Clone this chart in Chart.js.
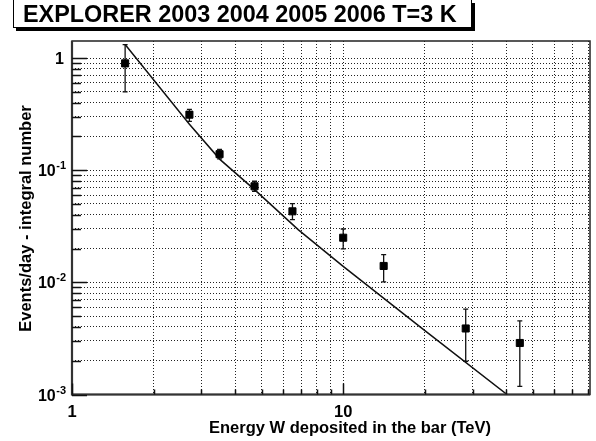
<!DOCTYPE html>
<html>
<head>
<meta charset="utf-8">
<script src="https://cdn.jsdelivr.net/npm/chart.js@4"></script>
<style>
  body { margin: 0; background: #fff; }
  #wrap { width: 596px; height: 441px; }
</style>
</head>
<body>
<div id="wrap"><canvas id="c" width="596" height="441"></canvas></div>
<script>
// measured points (energy in TeV, events/day)
const energy = [1.57, 2.71, 3.5, 4.71, 6.5, 10.0, 14.1, 28.3, 44.8];
const rate = [0.897, 0.313, 0.139, 0.0719, 0.043, 0.025, 0.0140, 0.00388, 0.00288];
const rateHigh = [1.32, 0.349, 0.153, 0.0797, 0.0503, 0.0299, 0.0177, 0.00578, 0.00454];
const rateLow = [0.50, 0.273, 0.126, 0.0649, 0.0362, 0.0199, 0.0101, 0.00198, 0.00118];

// expected curve
const curveEnergy = [1.57, 2.71, 3.51, 4.71, 6.84, 10, 19.9, 40.2];
const curveRate = [1.32, 0.257, 0.125, 0.0672, 0.0294, 0.0139, 0.00375, 0.001];

// axes
const xRange = [1, 81.3];
const yRange = [0.001, 1.42];
const xDecades = [1, 10];
const xDecadeLabels = ['1', '10'];
const yDecades = [0.001, 0.01, 0.1, 1];
const yDecadeBase = ['10', '10', '10', '1'];
const yDecadeExp = ['-3', '-2', '-1', ''];

const titleText = 'EXPLORER 2003 2004 2005 2006 T=3 K';
const xTitle = 'Energy W deposited in the bar (TeV)';
const yTitle = 'Events/day - integral number';

const FONT = '"Liberation Sans", Arial, Helvetica, sans-serif';

function gridValues(decades, lo, hi) {
  const out = [];
  const all = decades.concat([decades[decades.length - 1] * 10]);
  all.forEach((d) => {
    for (let k = 1; k <= 9; k++) {
      const v = d * k;
      if (v >= lo * 0.9999 && v <= hi) out.push(v);
    }
  });
  return out;
}
const xGrid = gridValues(xDecades, xRange[0], xRange[1]);
const yGrid = gridValues(yDecades, yRange[0], yRange[1]);
const isDecade = (v) => Math.abs(Math.log10(v) - Math.round(Math.log10(v))) < 1e-6;

const decor = {
  id: 'decor',
  beforeDatasetsDraw(chart) {
    const { ctx, scales: { x, y } } = chart;
    ctx.save();
    ctx.strokeStyle = '#111';
    ctx.lineWidth = 1.3;
    energy.forEach((e, i) => {
      const px = x.getPixelForValue(e);
      const top = y.getPixelForValue(rateHigh[i]);
      const bot = y.getPixelForValue(rateLow[i]);
      ctx.beginPath();
      ctx.moveTo(px, top); ctx.lineTo(px, bot);
      ctx.moveTo(px - 2.5, top); ctx.lineTo(px + 2.5, top);
      ctx.moveTo(px - 2.5, bot); ctx.lineTo(px + 2.5, bot);
      ctx.stroke();
    });
    ctx.restore();
  },
  afterDraw(chart) {
    const { ctx, chartArea: a, scales: { x, y } } = chart;
    ctx.save();

    // frame
    ctx.strokeStyle = '#222';
    ctx.lineWidth = 1.5;
    ctx.strokeRect(a.left, a.top, a.right - a.left, a.bottom - a.top);
    ctx.lineWidth = 2.2;
    ctx.strokeStyle = '#333';
    ctx.beginPath();
    ctx.moveTo(a.left, a.top); ctx.lineTo(a.left, a.bottom); ctx.lineTo(a.right, a.bottom);
    ctx.stroke();

    // tick marks
    ctx.lineWidth = 1.5;
    ctx.strokeStyle = '#111';
    ctx.beginPath();
    yGrid.forEach((v) => {
      const py = Math.round(y.getPixelForValue(v)) + 0.5;
      ctx.moveTo(a.left, py); ctx.lineTo(a.left + (isDecade(v) ? 15 : 9), py);
    });
    xGrid.forEach((v) => {
      const px = Math.round(x.getPixelForValue(v)) + 0.5;
      ctx.moveTo(px, a.bottom); ctx.lineTo(px, a.bottom - (isDecade(v) ? 11 : 5));
    });
    ctx.stroke();

    // tick labels
    ctx.fillStyle = '#000';
    ctx.textBaseline = 'alphabetic';
    yDecades.forEach((v, i) => {
      const py = y.getPixelForValue(v);
      const right = a.left - 6;
      ctx.font = 'bold 11px ' + FONT;
      const expW = yDecadeExp[i] ? ctx.measureText(yDecadeExp[i]).width : 0;
      if (yDecadeExp[i]) {
        ctx.textAlign = 'right';
        ctx.fillText(yDecadeExp[i], right, py - 1);
      }
      ctx.font = 'bold 16px ' + FONT;
      ctx.textAlign = 'right';
      ctx.fillText(yDecadeBase[i], right - expW - (expW ? 0.5 : 2), py + 6);
    });
    ctx.font = 'bold 16.5px ' + FONT;
    ctx.textAlign = 'center';
    xDecades.forEach((v, i) => {
      ctx.fillText(xDecadeLabels[i], x.getPixelForValue(v), 417);
    });

    // axis titles
    ctx.font = 'bold 16.5px ' + FONT;
    ctx.textAlign = 'center';
    ctx.fillText(xTitle, 350, 433);
    ctx.save();
    ctx.translate(31, 218.5);
    ctx.rotate(-Math.PI / 2);
    ctx.fillText(yTitle, 0, 0);
    ctx.restore();

    // title box
    ctx.fillStyle = '#000';
    ctx.fillRect(16, 3, 459, 28);
    ctx.fillStyle = '#fff';
    ctx.fillRect(13, 0, 459, 28);
    ctx.strokeStyle = '#000';
    ctx.lineWidth = 1;
    ctx.strokeRect(13.5, -0.5, 458, 28);
    ctx.fillStyle = '#000';
    ctx.font = 'bold 23.4px ' + FONT;
    ctx.textAlign = 'left';
    ctx.fillText(titleText, 23, 22);

    ctx.restore();
  }
};

new Chart(document.getElementById('c'), {
  type: 'scatter',
  data: {
    datasets: [
      {
        type: 'scatter',
        data: energy.map((e, i) => ({ x: e, y: rate[i] })),
        pointStyle: 'rect',
        pointRadius: 5,
        backgroundColor: '#000',
        borderColor: '#000',
        borderWidth: 1,
        order: 1,
      },
      {
        type: 'line',
        data: curveEnergy.map((e, i) => ({ x: e, y: curveRate[i] })),
        borderColor: '#111',
        borderWidth: 1.5,
        pointRadius: 0,
        tension: 0,
        fill: false,
        order: 2,
      },
    ],
  },
  options: {
    responsive: false,
    animation: false,
    layout: { padding: { top: 41, right: 2.5, left: 0, bottom: 0 } },
    plugins: { legend: { display: false }, title: { display: false }, tooltip: { enabled: false } },
    scales: {
      x: {
        type: 'logarithmic',
        min: xRange[0],
        max: xRange[1],
        afterBuildTicks: (s) => { s.ticks = xGrid.map((v) => ({ value: v })); },
        afterFit: (s) => { s.height = 46.5; },
        ticks: { display: false },
        grid: { color: '#222', lineWidth: 1, drawTicks: false },
        border: { display: false, dash: [1, 2] },
      },
      y: {
        type: 'logarithmic',
        min: yRange[0],
        max: yRange[1],
        afterBuildTicks: (s) => { s.ticks = yGrid.map((v) => ({ value: v })); },
        afterFit: (s) => { s.width = 72; },
        ticks: { display: false },
        grid: { color: '#222', lineWidth: 1, drawTicks: false },
        border: { display: false, dash: [1, 2] },
      },
    },
  },
  plugins: [decor],
});
</script>
</body>
</html>
